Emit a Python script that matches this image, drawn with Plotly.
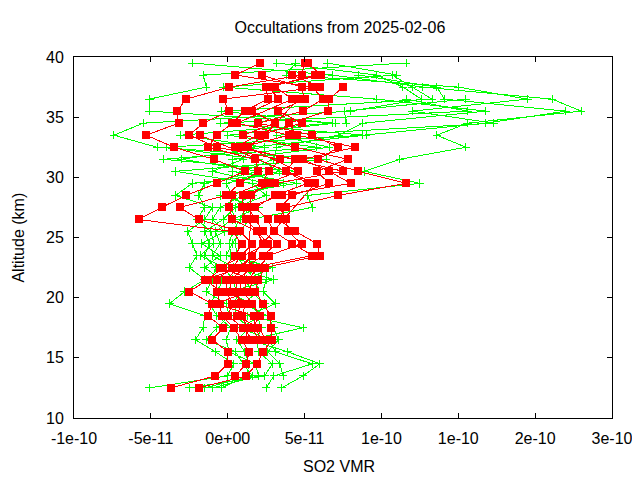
from itertools import zip_longest
import plotly.graph_objects as go

# Values are SO2 VMR in units of 1e-11, one list per altitude level
altitudes = [39.5, 38.5, 37.5, 36.5, 35.5, 34.5, 33.5, 32.5, 31.5, 30.5, 29.5, 28.5, 27.5, 26.5,
             25.5, 24.5, 23.5, 22.5, 21.5, 20.5, 19.5, 18.5, 17.5, 16.5, 15.5, 14.5, 13.5, 12.5]
UNIT = 1e-11

red_395 = [5.0, 2.1, 5.2]
red_385 = [4.8, .5, 6.1, 2.2, 4.2, 5.7]
red_375 = [.1, 5.5, 2.5, 4.8, 6.0, 2.7, 7.5, 3.1]
red_365 = [-2.7, 6.2, 2.6, 5.0, -.3, 3.3, 6.6, 4.2, 4.6]
red_355 = [-3.3, 4.9, 1.1, 3.3, .1, 1.6, 6.5]
red_345 = [-3.2, 2.0, .3, 4.8, -1.6, 3.1, 4.0, .6]
red_335 = [-5.3, 5.5, -.7, 2.0, -2.5, 1.0, 4.5, 4.0, 2.4, -1.8]
red_325 = [-3.5, 7.2, -1.3, .5, -.7, 4.4, 8.3, .9, 1.3]
red_315 = [-.9, 5.9, 1.8, 4.4, 3.4, 7.8, 4.9]
red_305 = [1.1, 8.5, 2.0, 3.8, 2.7, 5.8, 6.6, 7.5, 4.6]
red_295 = [-.7, 11.6, .8, 5.2, 2.2, 6.6, 8.0, 3.1, 2.6, 5.7]
red_285 = [-2.7, 7.2, -.1, 3.1, .3, 4.2, 3.5, 1.0, 1.5]
red_275 = [-4.3, 3.8, -3.1, 1.8, .1, 3.4, 1.3, .9]
red_265 = [-5.8, 3.3, -1.9, 2.6, .3, 3.8, 1.8, 1.2]
red_255 = [.3, 4.4, .8, 3.0, 1.9, 3.9, 2.3]
red_245 = [.9, 5.8, 1.6, 4.2, 2.3, 4.8, 3.2, 2.6]
red_235 = [.5, 6.0, .9, 5.5, 1.6, 2.7, 2.3]
red_225 = [-.3, 2.4, .3, 1.6, .7, 2.0, 1.1, -.5, 1.4, .9]
red_215 = [-1.3, 2.0, -.7, .6, -.1, 1.3, .2, 1.6, .9, -1.5]
red_205 = [-2.5, 1.8, -.7, .5, -.1, 1.0, .2, 1.4, .8, -.4]
red_195 = [-1.0, 2.3, -.5, .9, .3, 1.6, 1.2, -.8, .6]
red_185 = [-1.3, 2.8, -.4, .6, 0, 2.1, .9, 1.7]
red_175 = [-.3, 2.8, .4, 2.0, 1.0, 1.6, 1.3, 1.8]
red_165 = [-1.0, 2.9, .9, 2.5, 1.6, 2.0, 1.2, 2.2]
red_155 = [0, 2.3, 1.4]
red_145 = [0, 1.9, 1.2]
red_135 = [-.8, 1.2, .5]
red_125 = [-3.7, -1.9]

green_395 = [11.6, -2.3, 3.2, 4.4, 6.5]
green_385 = [-1.6, 6.8, 9.7, 3.8, 11.0, 8.5, 10.7]
green_375 = [-1.4, 12.7, 11.4, 15.0, -.3, 13.6, 12.0]
green_365 = [-5.1, 21.1, 12.6, 19.5, 9.7, 14.1, 13.3, 11.6, 15.5]
green_355 = [-5.1, 23.0, 8.0, 12.0, 16.8, 22.0, -.4, 15.6, 7.6]
green_345 = [7.0, 15.6, -5.5, 17.3, 8.8, 16.8, 6.8, -.5, 7.7]
green_335 = [0, 13.6, -7.4, 3.2, 7.2, 8.8, -3.1, 9.0]
green_325 = [5.8, 15.5, -4.6, 6.6, 3.2, -4.0, 2.4, 1.5]
green_315 = [-4.2, 11.2, 6.4, .3, 3.0, 2.0, -3.0, 1.0]
green_305 = [4.5, 8.9, -3.4, .3, 1.0, 3.4, 2.0, -1.0]
green_295 = [-2.3, 12.5, 1.6, 4.5, 3.6, -.1, -1.5, 2.5]
green_285 = [-3.4, 5.2, 2.5, -.5, 1.0, .3, -1.9, 1.6]
green_275 = [-1.0, 5.5, .5, 2.0, -.5, 1.2, -1.5, .2]
green_265 = [-1.5, 1.4, -.3, .3, -1.0, .8, -2.0, .5]
green_255 = [-2.6, .8, -1.5, -.8, -.2, .3, -1.1, .6]
green_245 = [-2.3, .3, -1.2, -.5, -1.7, .1, -.9, .5]
green_235 = [-2.0, -.1, -1.5, -1.0, -.5, .2, -1.8, .6]
green_225 = [-2.5, 2.5, -.8, .4, -1.5, 2.9, -.2, 1.1]
green_215 = [-1.5, 2.5, -1.0, 3.0, -.4, 1.2, .3, 1.8]
green_205 = [-2.8, 2.3, -1.4, .1, -.6, 1.5, .6, 2.0]
green_195 = [-3.8, 3.1, -.1, 1.4, -1.2, 2.4, .5, 1.0]
green_185 = [-1.5, 1.3, .1, 2.2, -.7, 1.9, .5, 2.6]
green_175 = [-1.6, 4.9, -.7, .8, .2, 2.2, 1.4, 3.0]
green_165 = [-2.1, 1.4, -1.4, 2.7, -.1, 1.9, .6, 3.3]
green_155 = [-.8, 3.9, .5, 3.1, .1, 2.0, 1.1, 2.6]
green_145 = [.4, 6.0, 1.0, 5.5, 1.8, 2.9, 1.4, 3.4]
green_135 = [0, 4.9, 1.6, 3.0, 2.0, 2.4, 1.2, 3.6]
green_125 = [-5.1, 3.5, -1.5, 2.5, -1.0, -2.5, -.4]

red_rows = [red_395, red_385, red_375, red_365, red_355, red_345, red_335, red_325, red_315, red_305,
            red_295, red_285, red_275, red_265, red_255, red_245, red_235, red_225, red_215, red_205,
            red_195, red_185, red_175, red_165, red_155, red_145, red_135, red_125]
green_rows = [green_395, green_385, green_375, green_365, green_355, green_345, green_335, green_325,
              green_315, green_305, green_295, green_285, green_275, green_265, green_255, green_245,
              green_235, green_225, green_215, green_205, green_195, green_185, green_175, green_165,
              green_155, green_145, green_135, green_125]

x_ticks = [-1e-10, -5e-11, 0, 5e-11, 1e-10, 1.5e-10, 2e-10, 2.5e-10]
x_labels = ["-1e-10", "-5e-11", "0e+00", "5e-11", "1e-10", "1e-10", "2e-10", "3e-10"]
y_ticks = [10, 15, 20, 25, 30, 35, 40]

FONT = dict(family="Liberation Sans", size=16, color="black")


def add_profiles(fig, rows, colour, marker):
    for col in zip_longest(*rows):
        fig.add_trace(go.Scatter(
            x=[None if v is None else v * UNIT for v in col],
            y=altitudes,
            mode="lines+markers",
            connectgaps=True,
            showlegend=False,
            line=dict(color=colour, width=1),
            marker=marker,
        ))


fig = go.Figure()
add_profiles(fig, green_rows, "#00ff00",
             dict(symbol="cross-thin", size=6, line=dict(color="#00ff00", width=1)))
add_profiles(fig, red_rows, "#ff0000",
             dict(symbol="square", size=8, color="#ff0000", line=dict(width=0)))

axis_common = dict(
    automargin=False,
    showgrid=False, zeroline=False, ticks="inside", ticklen=5, tickwidth=1, tickcolor="black",
    showline=True, linecolor="black", linewidth=1, mirror="ticks", tickfont=FONT,
)
fig.update_xaxes(range=[-1e-10, 2.5e-10], tickmode="array", tickvals=x_ticks, ticktext=x_labels,
                 ticklabelstandoff=6, **axis_common)
fig.update_yaxes(range=[10, 40], tickmode="array", tickvals=y_ticks,
                 ticklabelstandoff=6, **axis_common)
fig.update_layout(
    width=632, height=472,
    margin=dict(l=66, r=28, t=49, b=62),
    paper_bgcolor="white", plot_bgcolor="white",
    title=dict(text="Occultations from 2025-02-06", x=332 / 632, xanchor="center",
               y=1 - 19 / 472, yanchor="middle", font=FONT),
    annotations=[
        dict(text="SO2 VMR", xref="paper", yref="paper", x=0.4926, y=-0.133,
             xanchor="center", yanchor="middle", showarrow=False, font=FONT),
        dict(text="Altitude (km)", xref="paper", yref="paper", x=-0.104, y=0.5,
             xanchor="center", yanchor="middle", textangle=-90, showarrow=False, font=FONT),
    ],
)
fig.write_html(
    "out.html",
    post_script="document.querySelectorAll('.scatterlayer path').forEach(function(p){p.style.shapeRendering='crispEdges';});",
)
